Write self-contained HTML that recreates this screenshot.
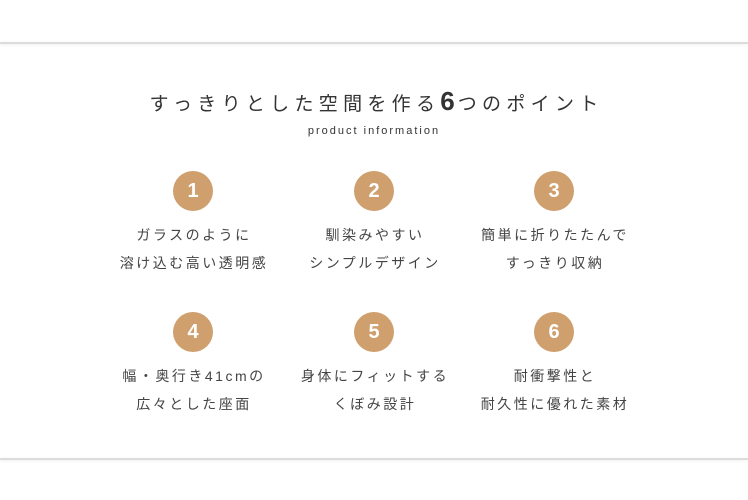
<!DOCTYPE html>
<html><head><meta charset="utf-8"><style>
*{margin:0;padding:0;box-sizing:border-box}
body{width:748px;height:500px;background:#fff;position:relative;overflow:hidden;font-family:"Liberation Sans","Noto Sans CJK JP",sans-serif;color:#444}
.line{position:absolute;left:0;width:748px;height:2px;background:#dcdcdc;box-shadow:0 1px 3px rgba(0,0,0,0.08)}
.t{position:absolute;left:0;width:748px;text-align:center;white-space:nowrap}
.title{top:86px;font-size:19px;letter-spacing:5.3px;color:#333;padding-left:5px}
.title b{font-size:26px;font-weight:bold;letter-spacing:3px}
.sub{top:125px;font-size:11px;letter-spacing:2px;color:#333}
.c{position:absolute;width:40px;height:40px;border-radius:50%;background:#cf9f6e;color:#fff;font-weight:bold;font-size:20px;text-align:center;line-height:40px}
.lab{position:absolute;width:200px;text-align:center;font-size:14px;letter-spacing:2.5px;color:#444;line-height:28px;white-space:nowrap}
</style></head><body>
<div class="line" style="top:42px"></div>
<div class="line" style="top:458px"></div>
<div class="t title">すっきりとした空間を作る<b>6</b>つのポイント</div>
<div class="t sub">product information</div>

<div class="c" style="left:173px;top:171px">1</div>
<div class="c" style="left:354px;top:171px">2</div>
<div class="c" style="left:534px;top:171px">3</div>
<div class="c" style="left:173px;top:312px">4</div>
<div class="c" style="left:354px;top:312px">5</div>
<div class="c" style="left:534px;top:312px">6</div>

<div class="lab" style="left:94px;top:221px">ガラスのように<br>溶け込む高い透明感</div>
<div class="lab" style="left:275px;top:221px">馴染みやすい<br>シンプルデザイン</div>
<div class="lab" style="left:455px;top:221px">簡単に折りたたんで<br>すっきり収納</div>
<div class="lab" style="left:94px;top:362px">幅・奥行き41cmの<br>広々とした座面</div>
<div class="lab" style="left:275px;top:362px">身体にフィットする<br>くぼみ設計</div>
<div class="lab" style="left:455px;top:362px">耐衝撃性と<br>耐久性に優れた素材</div>
</body></html>
